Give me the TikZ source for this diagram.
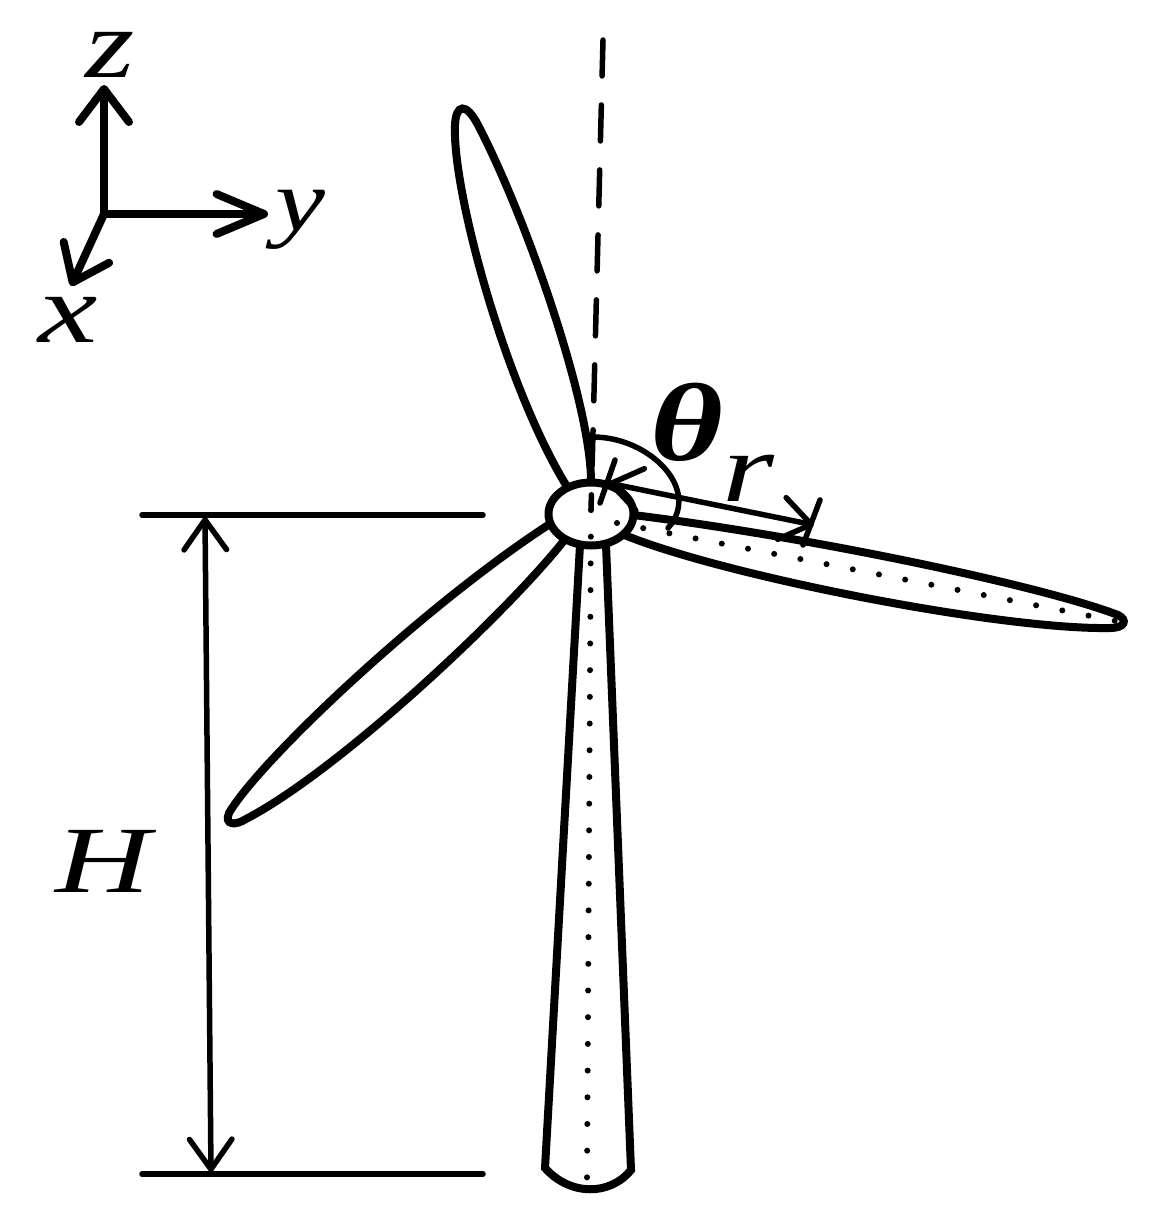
\documentclass[tikz,border=0pt]{standalone}
\usepackage{fontspec}
\setmainfont{Liberation Serif}
\usetikzlibrary{arrows.meta,shapes.geometric}
\begin{document}
\begin{tikzpicture}[x=0.02cm, y=-0.02cm,
	heavy/.style = {line width=0.16cm},
	thin line/.style = {line width=0.11cm},
	axis/.style = {heavy, line cap=round, -{Straight Barb[length=0.66cm,width=1cm,round]}},
	long axis/.style = {heavy, line cap=round, -{Straight Barb[length=0.95cm,width=0.8cm,round]}},
	dim/.style = {thin line, {Straight Barb[length=0.6cm,width=0.85cm,round]}-{Straight Barb[length=0.6cm,width=0.85cm,round]}},
	rod/.style = {line width=0.12cm, line cap=round, dash pattern=on 0pt off 0.534cm},
	letter/.style = {inner sep=0pt, xscale=7.2, yscale=5.6, font=\itshape}]
	\useasboundingbox (0,0) rectangle (1161,1227);

	% blades and tower
	\draw[heavy] (566,485) .. controls (505,385) and (452,190) .. (455,125)
		.. controls (456,104) and (466,102) .. (478,125)
		.. controls (525,215) and (590,400) .. (591,480);
	\draw[heavy] (625,514) .. controls (800,535) and (1040,585) .. (1118,615)
		.. controls (1128,620) and (1125,628) .. (1110,628)
		.. controls (1000,630) and (720,575) .. (622,534);
	\draw[heavy] (556,520) .. controls (430,600) and (260,760) .. (229,813)
		.. controls (224,825) and (235,826) .. (246,819)
		.. controls (340,770) and (510,610) .. (566,538);
	\draw[heavy] (580,545) -- (545,1168) .. controls (570,1196) and (610,1196) .. (631,1170) -- (606,545);

	% hub
	\node[ellipse, draw, fill=white, heavy, inner sep=0pt, minimum width=1.7cm, minimum height=1.26cm] (hub) at (591,514) {};

	% centre lines
	\coordinate (top) at (603,40);
	\coordinate (centre) at (591,510);
	\coordinate (foot) at (587,1178);
	\coordinate (tip) at (1116,621);
	\coordinate (root) at (617,523);
	\draw[line width=0.11cm, line cap=round, dash pattern=on 0.72cm off 0.58cm] (top) -- (centre);
	\draw[rod] (centre) -- (foot);
	\draw[rod] (root) -- (tip);

	% angle
	\coordinate (a1) at (593,437);
	\coordinate (a2) at (668,528);
	\draw[thin line, line cap=round] (a1) .. controls (650,437) and (702,490) .. (a2);

	% r
	\coordinate (r1) at (608,483);
	\coordinate (r2) at (814,525);
	\coordinate (b1) at (615,460);
	\coordinate (b2) at (600,503);
	\coordinate (b3) at (820,500);
	\coordinate (b4) at (803,545);
	\draw[dim] (r1) -- (r2);
	\draw[thin line, line cap=round] (b1) -- (b2);
	\draw[thin line, line cap=round] (b3) -- (b4);

	% H
	\coordinate (h1) at (142,515);
	\coordinate (h2) at (483,515);
	\coordinate (h3) at (142,1174);
	\coordinate (h4) at (483,1174);
	\coordinate (h5) at (205,517);
	\coordinate (h6) at (211,1172);
	\draw[thin line, line cap=round] (h1) -- (h2);
	\draw[thin line, line cap=round] (h3) -- (h4);
	\draw[dim] (h5) -- (h6);

	% axes
	\coordinate (o) at (104,214);
	\node[letter] (z) at (110,55) {z};
	\node[letter, xscale=6.4/7.2, yscale=5/5.6] (y) at (300,220) {y};
	\node[letter, xscale=7.6/7.2] (x) at (68,320) {x};
	\coordinate (zend) at (104,85);
	\coordinate (yend) at (268,214);
	\coordinate (xend) at (71,286);
	\draw[axis] (o) -- (zend);
	\draw[long axis] (o) -- (yend);
	\draw[axis] (o) -- (xend);

	\node[letter, xscale=7.5/7.2, yscale=5.4/5.6] (H) at (103,861) {H};
	\node[letter, xscale=8/7.2, yscale=6.3/5.6, font=\bfseries\itshape] (theta) at (687,422) {θ};
	\node[letter, xscale=7.6/7.2, yscale=5.6/5.6] (r) at (748,478) {r};
\end{tikzpicture}
\end{document}
